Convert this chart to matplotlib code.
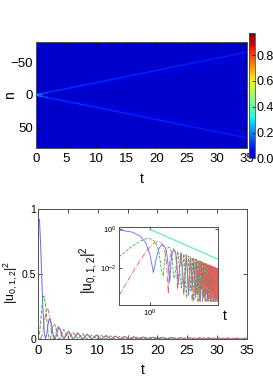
import matplotlib
matplotlib.use("Agg")
import matplotlib.pyplot as plt
import numpy as np
from matplotlib.colors import ListedColormap, Normalize
from matplotlib.collections import LineCollection

plt.rcParams['font.family'] = ['Liberation Sans', 'DejaVu Sans']
plt.rcParams['mathtext.default'] = 'regular'

# --- top panel: light cone of |u_n(t)|^2
bg_grid = [[0.0, 0.0], [0.0, 0.0]]
front_t = [0, 0.5, 1, 2, 4, 8, 15, 25, 35]
front_outer = [0, 1.0, 1.9, 3.8, 7.5, 15, 28, 46.5, 65]
front_outer_val = [0.4, 0.3, 0.22, 0.16, 0.13, 0.11, 0.1, 0.09, 0.085]
front_inner = [0, 0.8, 1.6, 3.2, 6.5, 13, 24.5, 40.5, 57]
front_inner_val = [0.25, 0.15, 0.1, 0.08, 0.06, 0.05, 0.045, 0.04, 0.04]

# --- bottom panel: |u_0|^2, |u_1|^2, |u_2|^2
t_u0 = [0.2, 0.4, 0.6, 0.8, 1.0, 1.2, 1.4, 1.6, 1.8, 2.0, 2.2, 2.4, 2.6, 2.8, 3.0,
        3.2, 3.4, 3.6, 3.8, 4.0, 4.33, 5.09, 5.90, 6.66, 7.47, 8.24, 9.04, 9.81,
        10.61, 11.38, 12.18, 12.95, 13.75, 14.52, 15.32, 16.10, 16.89, 17.67, 18.46,
        19.24, 20.03, 20.81, 21.60, 22.38, 23.17, 23.95, 24.74, 25.52, 26.31, 27.09,
        27.88, 28.66, 29.45, 30.24, 31.02, 31.81, 32.60, 33.38, 34.17, 34.95]
u0 = [0.922, 0.716, 0.450, 0.207, 0.050, 0.006, 0.034, 0.103, 0.154, 0.158, 0.117,
      0.058, 0.012, 0.002, 0.023, 0.059, 0.086, 0.087, 0.063, 0.030, 0.0015, 0.0624,
      0.0008, 0.0477, 0.0004, 0.0386, 0.0012, 0.0324, 0.0003, 0.0280, 0.0006, 0.0246,
      0.0002, 0.0219, 0.0009, 0.0198, 0.0003, 0.0180, 0.0005, 0.0165, 0.0002, 0.0153,
      0.0007, 0.0142, 0.0002, 0.0133, 0.0004, 0.0125, 0.0002, 0.0118, 0.0006, 0.0111,
      0.0002, 0.0105, 0.0003, 0.0100, 0.0002, 0.0095, 0.0004, 0.0091]

t_u1 = [0.2, 0.4, 0.6, 0.8, 1.0, 1.2, 1.4, 1.6, 1.8, 2.0, 2.2, 2.4, 2.6, 2.8, 3.0,
        3.2, 3.4, 3.6, 4.27, 5.09, 5.85, 6.66, 7.43, 8.24, 9.01, 9.81, 10.58, 11.38,
        12.16, 12.95, 13.73, 14.52, 15.30, 16.10, 16.87, 17.67, 18.45, 19.24, 20.02,
        20.81, 21.59, 22.38, 23.16, 23.95, 24.73, 25.52, 26.30, 27.09, 27.88, 28.66,
        29.45, 30.24, 31.02, 31.81, 32.59, 33.38, 34.16, 34.95]
u1 = [0.0385, 0.136, 0.248, 0.325, 0.333, 0.271, 0.168, 0.068, 0.009, 0.004, 0.041,
      0.089, 0.118, 0.112, 0.077, 0.033, 0.004, 0.003, 0.0747, 0.0010, 0.0544, 0.0003,
      0.0428, 0.0007, 0.0353, 0.0002, 0.0300, 0.0005, 0.0261, 0.0002, 0.0232, 0.0008,
      0.0208, 0.0003, 0.0189, 0.0002, 0.0173, 0.0006, 0.0159, 0.0002, 0.0147, 0.0004,
      0.0137, 0.0002, 0.0129, 0.0005, 0.0121, 0.0002, 0.0114, 0.0003, 0.0108, 0.0002,
      0.0103, 0.0006, 0.0098, 0.0002, 0.0093, 0.0003]

t_u2 = [0.2, 0.4, 0.6, 0.8, 1.0, 1.2, 1.4, 1.6, 1.8, 2.0, 2.2, 2.4, 2.6, 2.8, 3.0,
        3.2, 3.4, 3.6, 3.8, 4.0, 4.21, 4.99, 5.81, 6.59, 7.40, 8.17, 8.98, 9.76, 10.56,
        11.34, 12.14, 12.91, 13.71, 14.49, 15.29, 16.06, 16.86, 17.64, 18.43, 19.21,
        20.00, 20.79, 21.58, 22.36, 23.15, 23.93, 24.72, 25.50, 26.29, 27.08, 27.87,
        28.65, 29.44, 30.22, 31.01, 31.79, 32.58, 33.36, 34.15, 34.93]
u2 = [0.00039, 0.0058, 0.0254, 0.066, 0.1245, 0.186, 0.228, 0.234, 0.198, 0.133,
      0.062, 0.013, 0.0005, 0.024, 0.059, 0.089, 0.098, 0.081, 0.048, 0.013, 0.0008,
      0.0649, 0.0004, 0.0488, 0.0010, 0.0392, 0.0002, 0.0328, 0.0005, 0.0282, 0.0002,
      0.0247, 0.0007, 0.0220, 0.0002, 0.0199, 0.0004, 0.0181, 0.0002, 0.0166, 0.0006,
      0.0153, 0.0002, 0.0142, 0.0003, 0.0133, 0.0002, 0.0125, 0.0005, 0.0118, 0.0002,
      0.0111, 0.0003, 0.0105, 0.0002, 0.0100, 0.0004, 0.0095, 0.0002, 0.0091]

# reference decay ~ 1/t in the inset
t_ref = [1, 35]
u_ref = [1.0, 0.0286]

cmap = ListedColormap(plt.cm.jet(np.linspace(0.07, 1, 256)))
norm = Normalize(0, 0.97)
edge = '#505050'
c0, c1, c2 = '#5a6cff', '#40b040', '#f05a5a'

fig = plt.figure(figsize=(2.73, 3.82), dpi=100)

ax1 = fig.add_axes([0.1319, 0.6134, 0.7718, 0.2759])
im = ax1.imshow(bg_grid, cmap=cmap, norm=norm, extent=[0, 35, 80, -80], aspect='auto')
for n_list, v_list, lw in [(front_outer, front_outer_val, 1.0), (front_inner, front_inner_val, 0.7)]:
    for sign in (-1, 1):
        pts = np.column_stack([front_t, sign * np.array(n_list)])
        segs = np.stack([pts[:-1], pts[1:]], axis=1)
        vals = 0.5 * (np.array(v_list[:-1]) + np.array(v_list[1:]))
        ax1.add_collection(LineCollection(segs, colors=cmap(norm(vals)), linewidths=lw))
ax1.set_xlim(0, 35)
ax1.set_ylim(80, -80)
ax1.set_xticks(range(0, 36, 5))
ax1.set_yticks([-50, 0, 50])
ax1.set_xlabel('t', fontsize=10)
ax1.set_ylabel('n', fontsize=10)
ax1.xaxis.set_label_coords(0.5, -0.235)
ax1.yaxis.set_label_coords(-0.09, 0.5)

cax = fig.add_axes([0.9132, 0.5856, 0.0209, 0.3272])
cb = fig.colorbar(im, cax=cax, ticks=[0, 0.2, 0.4, 0.6, 0.8])
cb.ax.tick_params(labelsize=9, direction='in', length=2, width=0.5, pad=1)
cb.outline.set_edgecolor(edge)
cb.outline.set_linewidth(0.6)

ax2 = fig.add_axes([0.1403, 0.1118, 0.7634, 0.3403])
ax2.plot(t_u0, u0, '-', color=c0, lw=0.7)
ax2.plot(t_u1, u1, '--', color=c1, lw=0.7)
ax2.plot(t_u2, u2, '-.', color=c2, lw=0.7)
ax2.set_xlim(0, 35)
ax2.set_ylim(0, 1)
ax2.set_xticks(range(0, 36, 5))
ax2.set_yticks([0, 0.5, 1])
ax2.set_yticklabels(['0', '0.5', '1'])
ax2.set_xlabel('t', fontsize=10)
ax2.set_ylabel(r'$|u_{0,1,2}|^2$', fontsize=9)
ax2.xaxis.set_label_coords(0.5, -0.185)
ax2.yaxis.set_label_coords(-0.088, 0.44)

for ax in (ax1, ax2):
    ax.tick_params(direction='in', length=3, width=0.5, top=True, right=True,
                   labelsize=9.5, pad=4)
    ax.tick_params(axis='y', pad=2)
    for s in ax.spines.values():
        s.set_edgecolor(edge)
        s.set_linewidth(0.7)
ax2.tick_params(axis='y', labelsize=7.5, pad=1.5)

ax3 = fig.add_axes([0.4359, 0.2016, 0.3637, 0.2034])
ax3.loglog(t_u0, u0, '-', color=c0, lw=0.6)
ax3.loglog(t_u1, u1, '--', color=c1, lw=0.6)
ax3.loglog(t_u2, u2, '-.', color=c2, lw=0.6)
ax3.loglog(t_ref, u_ref, '-', color='#55eeaa', lw=0.8)
ax3.set_xlim(0.2, 35)
ax3.set_ylim(1.3e-4, 1.27)
ax3.set_xticks([1])
ax3.set_xticks([], minor=True)
ax3.set_yticks([1, 1e-2])
ax3.set_yticks([], minor=True)
ax3.set_xticklabels([r'$10^0$'])
ax3.set_yticklabels([r'$10^0$', r'$10^{-2}$'])
ax3.tick_params(direction='in', length=2, width=0.5, top=True, right=True,
                labelsize=5.5, pad=2)
for s in ax3.spines.values():
    s.set_edgecolor(edge)
    s.set_linewidth(0.7)
ax3.set_ylabel(r'$|u_{0,1,2}|^2$', fontsize=10)
ax3.yaxis.set_label_coords(-0.19, 0.45)
ax3.text(1.07, -0.14, 't', transform=ax3.transAxes, fontsize=10,
         ha='center', va='center')

fig.savefig('out.png', dpi=100)
